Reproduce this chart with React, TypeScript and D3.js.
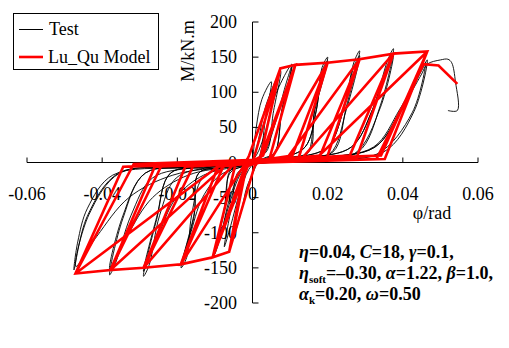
import React from "react";
import * as d3 from "d3";

const W = 509;
const H = 348;

const xTicks = [-0.06, -0.04, -0.02, 0, 0.02, 0.04, 0.06];
const xTickLabels = ["-0.06", "-0.04", "-0.02", "0", "0.02", "0.04", "0.06"];
const yTicks = [200, 150, 100, 50, 0, -50, -100, -150, -200];
const yTickLabels = ["200", "150", "100", "50", "0", "-50", "-100", "-150", "-200"];
const seriesNames = ["Test", "Lu_Qu Model"];
const xTitle = "φ/rad";
const yTitle = "M/kN.m";

// Test (measured) moment-curvature path: [phi (rad), M (kN.m)]
const testCurve: [number, number][] = [
  [0, 0], [0.001, 50], [0.0025, 90], [0.005, 115],
  [0.0035, 65], [0.0022, 15], [0.0005, -10], [-0.0015, -35], [-0.003, -70], [-0.005, -105],
  [-0.0035, -55], [-0.002, -12], [0, 0], [0.0015, 30], [0.0035, 80], [0.0075, 130],
  [0.0055, 70], [0.004, 18], [0.0015, 5], [-0.001, -10], [-0.0035, -45], [-0.0058, -90], [-0.0075, -120],
  [-0.0055, -60], [-0.004, -15], [-0.0015, -5], [0.001, 10], [0.0035, 45], [0.006, 95], [0.0105, 140],
  [0.0078, 75], [0.006, 15], [0.003, 6], [0, 0], [-0.003, -12], [-0.006, -50], [-0.0085, -105], [-0.01, -130],
  [-0.0075, -65], [-0.006, -15], [-0.003, -6], [0, 0], [0.003, 12], [0.006, 55], [0.0088, 110], [0.0105, 138],
  [0.0078, 72], [0.0058, 12], [0.003, 5], [0, -2], [-0.003, -15], [-0.0062, -60], [-0.0087, -108], [-0.01, -128],
  [-0.0072, -60], [-0.006, -12], [-0.003, -4], [0, 0], [0.008, 7], [0.014, 22], [0.017, 75], [0.0185, 135], [0.02, 150],
  [0.0165, 75], [0.015, 15], [0.008, 7], [0, 0], [-0.0076, -7], [-0.0133, -22], [-0.0162, -75], [-0.0175, -135], [-0.019, -150],
  [-0.0155, -75], [-0.0143, -15], [-0.0076, -7], [0, 0], [0.008, 7], [0.014, 22], [0.017, 75], [0.0185, 130], [0.02, 145],
  [0.0165, 72], [0.0144, 12], [0.007, 5], [-0.0019, -5], [-0.0086, -18], [-0.0133, -50], [-0.0167, -105], [-0.019, -145],
  [-0.0155, -72], [-0.0143, -15], [-0.0076, -7], [0, 0], [0.0114, 7], [0.02, 22], [0.0242, 75], [0.027, 143], [0.0285, 159],
  [0.025, 80], [0.0214, 15], [0.0114, 7], [0, 0], [-0.0116, -7], [-0.0203, -22], [-0.0247, -75], [-0.0275, -146], [-0.029, -162],
  [-0.0255, -81], [-0.0218, -15], [-0.0116, -7], [0, 0], [0.0114, 7], [0.02, 22], [0.0242, 75], [0.027, 137], [0.0285, 152],
  [0.025, 76], [0.0205, 12], [0.01, 5], [-0.0029, -5], [-0.013, -18], [-0.0203, -50], [-0.0255, -110], [-0.029, -155],
  [-0.0255, -78], [-0.0218, -15], [-0.0116, -7], [0, 0], [0.015, 7], [0.0263, 22], [0.0319, 75], [0.036, 146], [0.0375, 162],
  [0.034, 81], [0.0281, 15], [0.015, 7], [0, 0], [-0.0152, -7], [-0.0266, -22], [-0.0323, -75], [-0.0365, -144], [-0.038, -160],
  [-0.0345, -80], [-0.0285, -15], [-0.0152, -7], [0, 0], [0.015, 7], [0.0263, 22], [0.0319, 75], [0.036, 140], [0.0375, 155],
  [0.034, 78], [0.027, 12], [0.0131, 5], [-0.0038, -5], [-0.0171, -18], [-0.0266, -50], [-0.0334, -105], [-0.038, -152],
  [-0.0345, -76], [-0.0285, -15], [-0.0152, -7], [0, 0], [0.0186, 7], [0.0326, 22], [0.0395, 75], [0.045, 131], [0.0465, 146],
  [0.043, 73], [0.0349, 15], [0.0186, 7], [0, 0], [-0.019, -7], [-0.0372, -18], [-0.0439, -65], [-0.0465, -113], [-0.0475, -153],
  [-0.044, -77], [-0.0356, -15], [-0.019, -7], [0, 0], [0.0184, 7], [0.0322, 22], [0.0391, 75], [0.0445, 128], [0.046, 142],
  [0.0425, 71], [0.0331, 12], [0.0161, 5], [-0.0047, -5], [-0.0212, -18], [-0.0329, -50], [-0.0414, -105], [-0.047, -148],
  [-0.0435, -74], [-0.0353, -15], [-0.0188, -7], [0, 0], [0.0186, 7], [0.0326, 22], [0.0395, 75], [0.045, 126], [0.0465, 140],
  [0.05, 146], [0.052, 147], [0.053, 142], [0.054, 115], [0.0545, 74], [0.052, 74],
];

// Lu_Qu model path (piecewise linear): [phi (rad), M (kN.m)]
const modelCurve: [number, number][] = [
  [0, 0], [0.0074, 134],
  [-0.0009, 10], [-0.002, -2], [-0.0062, -127],
  [0.0005, -6], [0.002, 5], [0.0074, 134], [0.0114, 139],
  [0.0028, 10], [-0.0015, -2], [-0.0062, -127], [-0.0106, -135],
  [-0.002, -6], [0.002, 5], [0.0114, 139],
  [0.0028, 10], [-0.001, -2], [-0.0106, -135],
  [-0.002, -6], [0.0045, 5], [0.0114, 139], [0.02, 142],
  [0.0106, 10], [-0.0045, -2], [-0.0106, -135], [-0.0191, -145],
  [-0.0092, -6], [0.005, 5], [0.02, 142],
  [0.0106, 10], [-0.002, -2], [-0.0191, -145],
  [-0.0092, -6], [0.0122, 5], [0.02, 142], [0.0285, 147],
  [0.018, 10], [-0.0075, -2], [-0.0191, -145], [-0.029, -150],
  [-0.0179, -6], [0.009, 5], [0.0285, 147],
  [0.018, 10], [-0.005, -2], [-0.029, -150],
  [-0.0179, -6], [0.0197, 5], [0.0285, 147], [0.0375, 155],
  [0.0259, 10], [-0.0155, -2], [-0.029, -150], [-0.0378, -153],
  [-0.026, -6], [0.013, 5], [0.0375, 155],
  [0.0259, 10], [-0.0068, -2], [-0.0378, -153],
  [-0.026, -6], [0.0276, 5], [0.0375, 155], [0.0465, 158],
  [0.0342, 10], [-0.024, -2], [-0.0378, -153], [-0.0471, -158],
  [-0.0344, -6], [0.0168, 5], [0.0465, 158],
  [0.0342, 10], [-0.0083, -2], [-0.0471, -158],
  [-0.0344, -6], [0.0352, 5], [0.0465, 158],
  [0.0342, 10], [-0.0316, -2], [-0.0471, -158],
  [-0.0344, -6], [0.033, 5], [0.0455, 140], [0.0495, 138], [0.0545, 112],
];

const FONT = '"Liberation Serif"';

export default function App() {
  const x = d3.scaleLinear().domain([-0.06, 0.06]).range([27, 478]);
  const y = d3.scaleLinear().domain([-200, 200]).range([303, 22]);
  const x0 = x(0);
  const y0 = y(0);

  const testLine = d3
    .line<[number, number]>()
    .x((d) => x(d[0]))
    .y((d) => y(d[1]))
    .curve(d3.curveCatmullRom.alpha(0.5));
  const modelLine = d3
    .line<[number, number]>()
    .x((d) => x(d[0]))
    .y((d) => y(d[1]));

  const txt: React.CSSProperties = { fontFamily: FONT, fontSize: 18 };
  const bold: React.CSSProperties = { fontFamily: FONT, fontSize: 18, fontWeight: "bold" };

  return (
    <svg width={W} height={H} style={{ position: "absolute", left: 0, top: 0, background: "#fff" }}>
      <rect x={0} y={0} width={W} height={H} fill="#fff" />
      {/* axes */}
      <line x1={x(-0.06)} x2={x(0.06)} y1={y0} y2={y0} stroke="#000" strokeWidth={1} />
      <line x1={x0} x2={x0} y1={y(200)} y2={y(-200)} stroke="#000" strokeWidth={1} />
      {xTicks.map((t) => (
        <line key={"xt" + t} x1={x(t)} x2={x(t)} y1={y0 - 5} y2={y0} stroke="#000" strokeWidth={1} />
      ))}
      {yTicks.map((t) => (
        <line key={"yt" + t} x1={x0} x2={x0 + 6} y1={y(t)} y2={y(t)} stroke="#000" strokeWidth={1} />
      ))}
      {xTicks.map((t, i) => (
        <text key={"xl" + t} x={x(t)} y={y0 + 37} textAnchor="middle" fill="#000" style={txt}>
          {xTickLabels[i]}
        </text>
      ))}
      {yTicks.map((t, i) => (
        <text key={"yl" + t} x={237} y={y(t) + 6} textAnchor="end" fill="#000" style={txt}>
          {yTickLabels[i]}
        </text>
      ))}
      <text x={432} y={219} textAnchor="middle" fill="#000" style={txt}>
        {xTitle}
      </text>
      <text transform={`translate(194,51) rotate(-90)`} textAnchor="middle" fill="#000" style={txt}>
        {yTitle}
      </text>

      {/* data */}
      <path d={testLine(testCurve) || ""} fill="none" stroke="#000" strokeWidth={0.9} />
      <path
        d={modelLine(modelCurve) || ""}
        fill="none"
        stroke="#ff0000"
        strokeWidth={2.6}
        strokeLinejoin="miter"
        strokeMiterlimit={3}
      />

      {/* legend */}
      <rect x={13.5} y={13.5} width={145} height={56} fill="#fff" stroke="#000" strokeWidth={1} />
      <line x1={19} x2={43} y1={29.5} y2={29.5} stroke="#000" strokeWidth={1} />
      <line x1={19} x2={43} y1={57} y2={57} stroke="#ff0000" strokeWidth={2.6} />
      <text x={49} y={35} fill="#000" style={txt}>{seriesNames[0]}</text>
      <text x={48} y={63} fill="#000" style={txt}>{seriesNames[1]}</text>

      {/* parameters */}
      <text x={299} y={258} fill="#000" style={bold}>
        <tspan fontStyle="italic">η</tspan>
        <tspan>{"=0.04, "}</tspan>
        <tspan fontStyle="italic">C</tspan>
        <tspan>{"=18, "}</tspan>
        <tspan fontStyle="italic">γ</tspan>
        <tspan>{"=0.1,"}</tspan>
      </text>
      <text x={299} y={279} fill="#000" style={bold}>
        <tspan fontStyle="italic">η</tspan>
        <tspan style={{ fontSize: 11 }} dy={4}>soft</tspan>
        <tspan dy={-4}>{"=–0.30, "}</tspan>
        <tspan fontStyle="italic">α</tspan>
        <tspan>{"=1.22, "}</tspan>
        <tspan fontStyle="italic">β</tspan>
        <tspan>{"=1.0,"}</tspan>
      </text>
      <text x={299} y={300} fill="#000" style={bold}>
        <tspan fontStyle="italic">α</tspan>
        <tspan style={{ fontSize: 11 }} dy={4}>k</tspan>
        <tspan dy={-4}>{"=0.20, "}</tspan>
        <tspan fontStyle="italic">ω</tspan>
        <tspan>{"=0.50"}</tspan>
      </text>
    </svg>
  );
}
